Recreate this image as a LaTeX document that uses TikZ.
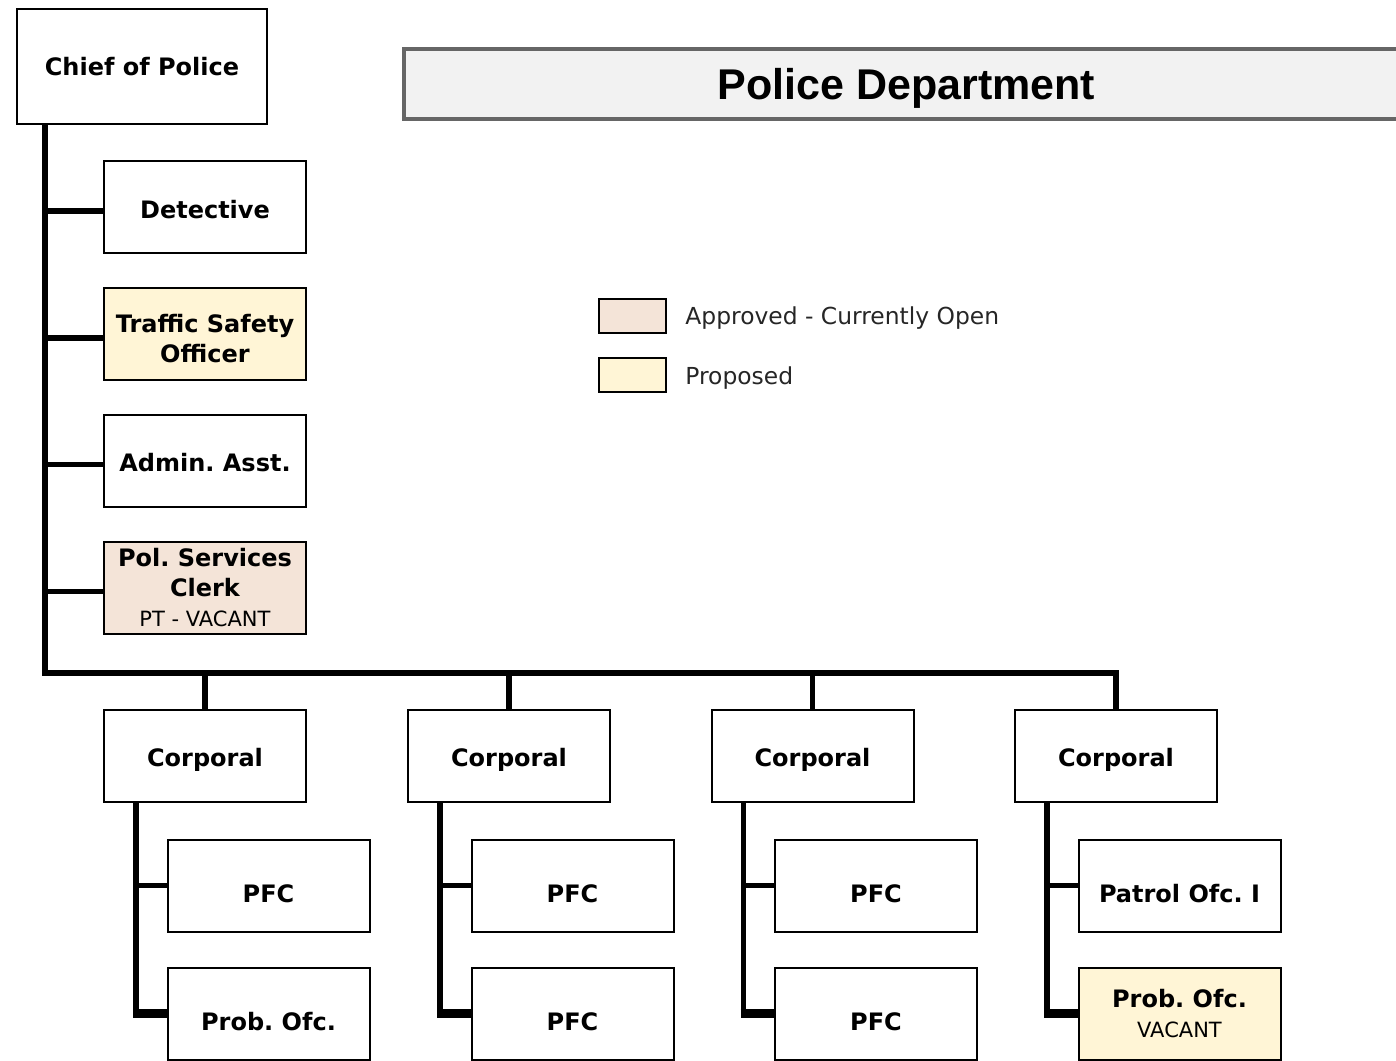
\documentclass[tikz,border=0pt]{standalone}
\usepackage{fontspec}
\setmainfont{DejaVu Sans}
\newfontfamily\titlefont{Liberation Sans}
\frenchspacing
\definecolor{openfill}{HTML}{F4E4D8}
\definecolor{propfill}{HTML}{FFF5D6}
\definecolor{titlefill}{HTML}{F2F2F2}
\definecolor{titleline}{HTML}{666666}
\newcommand{\subline}[1]{{\mdseries\fontsize{10.5}{15}\selectfont #1}}
\begin{document}
\begin{tikzpicture}[x=0.5pt,y=-0.5pt,
  post/.style={draw,line width=1pt,fill=white,minimum width=101pt,minimum height=46pt,
    inner sep=0pt,align=center,font=\bfseries\fontsize{12}{15}\selectfont},
  oneline/.style={text depth=0pt,text height=11.3pt},
  lowline/.style={text depth=0pt,text height=16.5pt},
  proposed/.style={fill=propfill},
  keybox/.style={draw,line width=1pt,minimum width=33.5pt,minimum height=17pt,inner sep=0pt},
  keytext/.style={anchor=west,inner sep=0pt,text=black!85,text depth=0pt,text height=8.5pt,
    font=\fontsize{11.7}{14}\selectfont},
  link/.style={line width=2.8pt},
  lastlink/.style={line width=4.5pt}]
\useasboundingbox (0,0) rectangle (1396,1060);
\node[draw=titleline,fill=titlefill,line width=2pt,minimum width=502.5pt,minimum height=35pt,
  text depth=0pt,text height=15.4pt,
  font=\titlefont\bfseries\fontsize{21.5}{26}\selectfont] (title) at (906.5,84) {Police Department};
\node[post,minimum width=125pt,minimum height=57.5pt] (chief) at (142,66.5) {Chief of Police};
\node[post,oneline] (det) at (205,207) {Detective};
\node[post,proposed,text depth=0pt,text height=28.1pt] (traffic) at (205,334) {Traffic Safety\\Officer};
\node[post,oneline] (admin) at (205,460.5) {Admin. Asst.};
\node[post,fill=openfill] (clerk) at (205,587.5) {Pol. Services\\Clerk\\\subline{PT - VACANT}};
% legend
\node[keybox,fill=openfill] (keyopen) at (632.5,316) {};
\node[keytext] (keyopentext) at (685,316) {Approved - Currently Open};
\node[keybox,proposed] (keyprop) at (632.5,375) {};
\node[keytext] (keyproptext) at (685,376) {Proposed};
% chief's spine
\coordinate (top) at ([xshift=14.5pt]chief.south west);
\coordinate (bend) at (45,673);
\foreach \n in {det,traffic,admin,clerk}{
  \draw[link] ([yshift=-2pt]top |- \n.west) -- ([yshift=-2pt]\n.west);
}
% corporals and their officers
\foreach \cx/\topname/\lowname/\lowstyle [count=\i] in {
  205/PFC/Prob. Ofc./lowline,
  509/PFC/PFC/lowline,
  812.5/PFC/PFC/lowline,
  1116/Patrol Ofc. I/{Prob. Ofc.\\\subline{VACANT}}/proposed}{
  \node[post,oneline] (corp\i) at (\cx,755.5) {Corporal};
  \node[post,lowline] (upper\i) at (\cx+63.5,885.5) {\topname};
  \node[post,\lowstyle] (lower\i) at (\cx+63.5,1013.5) {\lowname};
  \coordinate (sp\i) at ([xshift=16.5pt]corp\i.south west);
  \draw[link] (sp\i) |- (upper\i.west);
  \draw[link] (sp\i) -- (sp\i |- lower\i.west);
  \draw[lastlink] ([xshift=-1.4pt]sp\i |- lower\i.west) -- (lower\i.west);
}
\draw[link] (top) -- (bend) -- (bend -| corp4.north) -- (corp4.north);
\foreach \i in {1,2,3}{
  \draw[link] (corp\i.north) -- (corp\i.north |- bend);
}
\end{tikzpicture}
\end{document}
